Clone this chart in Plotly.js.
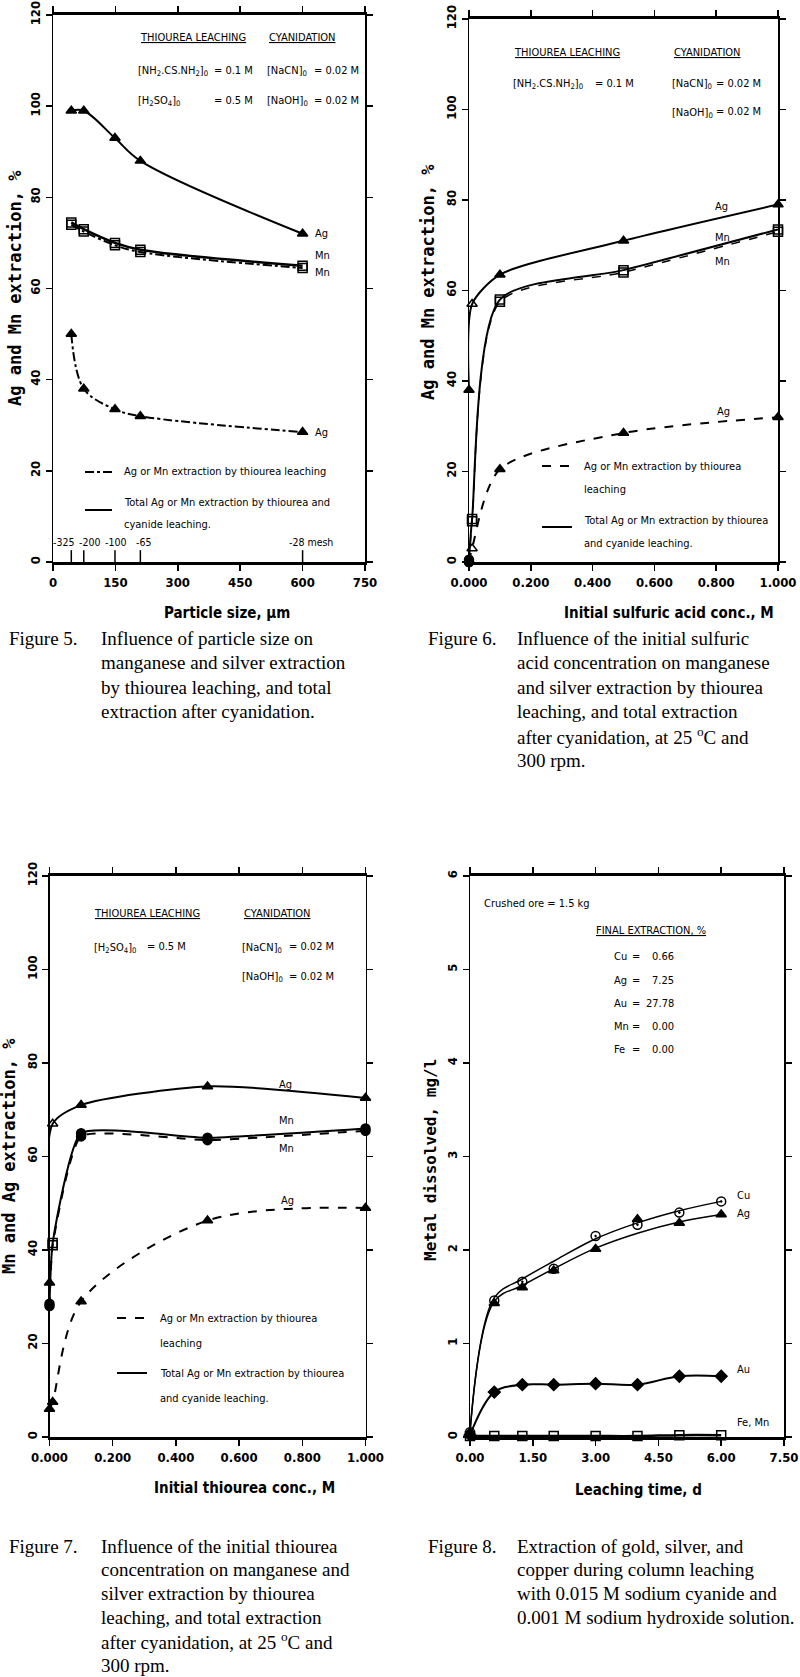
<!DOCTYPE html>
<html><head><meta charset="utf-8">
<script src="https://cdn.plot.ly/plotly-3.0.1.min.js"></script>
<style>html,body{margin:0;padding:0;background:#fff}#chart{width:800px;height:1677px}</style>
</head><body><div id="chart"></div>
<script>
// ---------- Figure 5 : particle size ----------
const particleSize5 = [44, 74, 149, 210, 600];
const agTotal5 = [99, 99, 93, 88, 72];
const mnTotal5 = [74.5, 73, 70, 68.5, 65];
const mnThio5 = [74, 72.5, 69.5, 68, 64.5];
const agThio5 = [50, 38, 33.5, 32, 28.5];
const meshSizes5 = [44, 74, 149, 210, 600];
const meshLabels5 = ['-325', '-200', '-100', '-65', '-28 mesh'];
const xTicks5 = [0, 150, 300, 450, 600, 750];
// ---------- Figure 6 : sulfuric acid ----------
const acidConc6 = [0, 0.01, 0.1, 0.5, 1.0];
const agTotal6 = [38, 57, 63.5, 71, 79];
const mnTotal6 = [0.5, 9.5, 58, 64.5, 73.5];
const mnThio6 = [0, 9, 57.5, 64, 73];
const agThio6 = [0, 3, 20.5, 28.5, 32];
// ---------- Figure 7 : thiourea ----------
const thioConc7 = [0, 0.01, 0.1, 0.5, 1.0];
const agTotal7 = [33, 67, 71, 75, 72.5];
const mnTotal7 = [28.5, 41.5, 65, 64, 66];
const mnThio7 = [28, 41, 64.3, 63.5, 65.5];
const agThio7 = [6, 7.5, 29, 46.3, 49];
const extrTicks = [0, 20, 40, 60, 80, 100, 120];
const concTicks = [0, 0.2, 0.4, 0.6, 0.8, 1.0];
// ---------- Figure 8 : column leaching ----------
const days8 = [0, 0.58, 1.25, 2, 3, 4, 5, 6];
const cu8 = [0.05, 1.46, 1.66, 1.80, 2.15, 2.27, 2.40, 2.52];
const ag8 = [0.05, 1.43, 1.60, 1.78, 2.01, 2.33, 2.29, 2.38];
const cuCurve8 = [0.05, 1.49, 1.69, 1.88, 2.12, 2.29, 2.42, 2.52];
const agCurve8 = [0.05, 1.45, 1.62, 1.80, 2.02, 2.18, 2.30, 2.38];
const au8 = [0.02, 0.48, 0.56, 0.56, 0.57, 0.56, 0.65, 0.65];
const feMn8 = [0.01, 0.01, 0.01, 0.01, 0.01, 0.01, 0.02, 0.02];
const dayTicks8 = [0, 1.5, 3, 4.5, 6, 7.5];
const mgTicks8 = [0, 1, 2, 3, 4, 5, 6];
const finalMetals8 = ['Cu', 'Ag', 'Au', 'Mn', 'Fe'];
const finalExtraction8 = ['0.66', '7.25', '27.78', '0.00', '0.00'];
// ---------- captions ----------
const capLabels = ['Figure 5.', 'Figure 6.', 'Figure 7.', 'Figure 8.'];
const cap5 = ['Influence of particle size on', 'manganese and silver extraction', 'by thiourea leaching, and total', 'extraction after cyanidation.'];
const cap6 = ['Influence of the initial sulfuric', 'acid concentration on manganese', 'and silver extraction by thiourea', 'leaching, and total extraction', 'after cyanidation, at 25 <sup>o</sup>C and', '300 rpm.'];
const cap7 = ['Influence of the initial thiourea', 'concentration on manganese and', 'silver extraction by thiourea', 'leaching, and total extraction', 'after cyanidation, at 25 <sup>o</sup>C and', '300 rpm.'];
const cap8 = ['Extraction of gold, silver, and', 'copper during column leaching', 'with 0.015 M sodium cyanide and', '0.001 M sodium hydroxide solution.'];

// ---------- styling / layout ----------
const W = 800, H = 1677;
const px = v => v / W, py = v => 1 - v / H;
const NARROW = '"Liberation Sans Narrow", "DejaVu Sans Condensed", "Liberation Sans", sans-serif';
const MONO = '"DejaVu Sans Mono", "Liberation Mono", monospace';
const SERIF = '"Liberation Serif", "DejaVu Serif", serif';
const BLACK = '#000';

function xax(d0, d1, range, tickvals, fmt, anchor) {
  return {domain: [px(d0), px(d1)], range, tickvals, tickformat: fmt, anchor,
    showline: true, linewidth: 3, linecolor: BLACK, mirror: 'ticks', ticks: 'outside',
    ticklen: 6, tickwidth: 1.5, tickcolor: BLACK, showgrid: false, zeroline: false,
    tickfont: {family: NARROW, size: 13, color: BLACK, weight: 'bold'}, fixedrange: true};
}
function yax(top, bottom, range, tickvals, anchor) {
  return {domain: [py(bottom), py(top)], range, tickvals, anchor, tickangle: -90,
    showline: true, linewidth: 1.5, linecolor: BLACK, mirror: 'ticks', ticks: 'outside',
    ticklen: 6, tickwidth: 1.5, tickcolor: BLACK, showgrid: false, zeroline: false,
    tickfont: {family: NARROW, size: 13, color: BLACK, weight: 'bold'}, fixedrange: true};
}
function tr(x, y, xa, ya, dash, width, symbols, smooth, mode) {
  return {x, y, xaxis: xa, yaxis: ya, type: 'scatter', mode: mode || 'lines+markers', cliponaxis: false,
    showlegend: false, hoverinfo: 'skip',
    line: {color: BLACK, width, dash, shape: 'spline', smoothing: smooth == null ? 1 : smooth},
    marker: {symbol: symbols, size: 9, color: BLACK, line: {color: BLACK, width: 1.5}}};
}
const rep = (s, n) => Array(n).fill(s);
const triF = rep('triangle-up', 5);
const triMix = ['triangle-up', 'triangle-up-open', 'triangle-up', 'triangle-up', 'triangle-up'];

const data = [
  // Fig 5
  tr(particleSize5, agTotal5, 'x', 'y', 'solid', 2, triF),
  tr(particleSize5, mnTotal5, 'x', 'y', 'solid', 2.5, rep('square-open', 5)),
  tr(particleSize5, mnThio5, 'x', 'y', 'dashdot', 2, rep('square-open', 5)),
  tr(particleSize5, agThio5, 'x', 'y', 'dashdot', 2, triF),
  // Fig 6
  tr(acidConc6, agTotal6, 'x2', 'y2', 'solid', 2, triMix, 0.7),
  tr(acidConc6, mnTotal6, 'x2', 'y2', 'solid', 2, ['circle', 'square-open', 'square-open', 'square-open', 'square-open'], 0.7),
  tr(acidConc6, mnThio6, 'x2', 'y2', 'dash', 1.5, ['circle', 'square-open', 'square-open', 'square-open', 'square-open'], 0.7),
  tr(acidConc6, agThio6, 'x2', 'y2', 'dash', 2, ['circle', 'triangle-up-open', 'triangle-up', 'triangle-up', 'triangle-up'], 0.8),
  // Fig 7
  tr(thioConc7, agTotal7, 'x3', 'y3', 'solid', 2, triMix, 0.7),
  tr(thioConc7, mnTotal7, 'x3', 'y3', 'solid', 2, ['circle', 'square-open', 'circle', 'circle', 'circle'], 0.45),
  tr(thioConc7, mnThio7, 'x3', 'y3', 'dash', 2, ['circle', 'square-open', 'circle', 'circle', 'circle'], 0.45),
  tr(thioConc7, agThio7, 'x3', 'y3', 'dash', 2, triF, 0.9),
  // Fig 8 : drawn curves and measured points
  tr(days8, cuCurve8, 'x4', 'y4', 'solid', 1.5, null, 1, 'lines'),
  tr(days8, agCurve8, 'x4', 'y4', 'solid', 1.5, null, 1, 'lines'),
  tr(days8, cu8, 'x4', 'y4', 'solid', 1.5, rep('circle-open-dot', 8), 1, 'markers'),
  tr(days8, ag8, 'x4', 'y4', 'solid', 1.5, rep('triangle-up', 8), 1, 'markers'),
  tr(days8, au8, 'x4', 'y4', 'solid', 2, rep('diamond', 8)),
  tr(days8, feMn8, 'x4', 'y4', 'solid', 2.5, rep('square-open', 8))
];

const ann = [];
const shapes = [];
function note(text, x, y, size, opts) {
  ann.push(Object.assign({text, x: px(x), y: py(y), xref: 'paper', yref: 'paper', xanchor: 'left', yanchor: 'middle',
    showarrow: false, font: {family: NARROW, size: size || 11, color: BLACK}}, opts || {}));
}
function dlabel(text, x, y, xa, ya) {
  ann.push({text, x, y, xref: xa, yref: ya, xanchor: 'left', yanchor: 'middle', showarrow: false,
    font: {family: NARROW, size: 11, color: BLACK}});
}
function legLine(x0, x1, y, dash) {
  shapes.push({type: 'line', xref: 'paper', yref: 'paper', x0: px(x0), x1: px(x1), y0: py(y), y1: py(y),
    line: {color: BLACK, width: 2, dash}});
}
function ytitle(text, x, y, size) {
  ann.push({text, x: px(x), y: py(y), xref: 'paper', yref: 'paper', xanchor: 'center', yanchor: 'middle',
    textangle: -90, showarrow: false, font: {family: MONO, size: size || 16, color: BLACK, weight: 'bold'}});
}
function xtitle(text, x, y) {
  ann.push({text, x: px(x), y: py(y), xref: 'paper', yref: 'paper', xanchor: 'center', yanchor: 'middle',
    showarrow: false, font: {family: NARROW, size: 15, color: BLACK, weight: 'bold'}});
}
const thioForm = '[NH<sub>2</sub>.CS.NH<sub>2</sub>]<sub>0</sub>';
const acidForm = '[H<sub>2</sub>SO<sub>4</sub>]<sub>0</sub>', nacn = '[NaCN]<sub>0</sub>', naoh = '[NaOH]<sub>0</sub>';

// ---- Panel 1 texts
note('<u>THIOUREA LEACHING</u>', 138, 38); note('<u>CYANIDATION</u>', 267, 38);
note(thioForm, 136, 71); note('= 0.1 M', 212, 70);
note(nacn, 265, 71); note('= 0.02 M', 312, 70);
note(acidForm, 136, 101); note('= 0.5 M', 212, 100);
note(naoh, 265, 101); note('= 0.02 M', 312, 100);
legLine(85, 112, 472, 'dashdot'); note('Ag or Mn extraction by thiourea leaching', 122, 472);
legLine(85, 112, 510, 'solid'); note('Total Ag or Mn extraction by thiourea and', 122, 502); note('cyanide leaching.', 122, 525);
dlabel('Ag', 626, 72, 'x', 'y'); dlabel('Mn', 626, 67.2, 'x', 'y'); dlabel('Mn', 626, 63.5, 'x', 'y'); dlabel('Ag', 626, 28.4, 'x', 'y');
const meshShift = [-8, 6, 1, 3, 8];
meshSizes5.forEach((m, i) => {
  shapes.push({type: 'line', xref: 'x', yref: 'y', x0: m, x1: m, y0: 0, y1: 2.6, line: {color: BLACK, width: 1.5}});
  ann.push({text: meshLabels5[i], x: m, y: 4.3, xref: 'x', yref: 'y', xanchor: 'center', yanchor: 'middle',
    xshift: meshShift[i], showarrow: false, font: {family: NARROW, size: 10.5, color: BLACK}});
});
ytitle('Ag and Mn extraction, %', 15, 288, 17);
xtitle('Particle size, µm', 227, 613);

// ---- Panel 2 texts
note('<u>THIOUREA LEACHING</u>', 512, 52); note('<u>CYANIDATION</u>', 672, 52);
note(thioForm, 511, 84); note('= 0.1 M', 593, 83);
note(nacn, 670, 84); note('= 0.02 M', 714, 83);
note(naoh, 670, 113); note('= 0.02 M', 714, 112);
legLine(542, 572, 466, 'dash'); note('Ag or Mn extraction by thiourea', 582, 466); note('leaching', 582, 489);
legLine(542, 572, 527, 'solid'); note('Total Ag or Mn extraction by thiourea', 582, 520); note('and cyanide leaching.', 582, 543);
dlabel('Ag', 0.79, 78.5, 'x2', 'y2'); dlabel('Mn', 0.79, 71.8, 'x2', 'y2'); dlabel('Mn', 0.79, 66.3, 'x2', 'y2'); dlabel('Ag', 0.795, 33.3, 'x2', 'y2');
ytitle('Ag and Mn extraction, %', 428, 282, 17);
xtitle('Initial sulfuric acid conc., M', 669, 613);

// ---- Panel 3 texts
note('<u>THIOUREA LEACHING</u>', 92, 913); note('<u>CYANIDATION</u>', 242, 913);
note(acidForm, 92, 948); note('= 0.5 M', 145, 947);
note(nacn, 240, 948); note('= 0.02 M', 287, 947);
note(naoh, 240, 977); note('= 0.02 M', 287, 976);
legLine(117, 147, 1318, 'dash'); note('Ag or Mn extraction by thiourea', 158, 1318); note('leaching', 158, 1343);
legLine(117, 147, 1373, 'solid'); note('Total Ag or Mn extraction by thiourea', 158, 1373); note('and cyanide leaching.', 158, 1398);
dlabel('Ag', 0.72, 75.5, 'x3', 'y3'); dlabel('Mn', 0.72, 67.6, 'x3', 'y3'); dlabel('Mn', 0.72, 61.8, 'x3', 'y3'); dlabel('Ag', 0.725, 50.5, 'x3', 'y3');
ytitle('Mn and Ag extraction, %', 9, 1156, 17);
xtitle('Initial thiourea conc., M', 244, 1488);

// ---- Panel 4 texts
note('Crushed ore = 1.5 kg', 482, 903);
note('<u>FINAL EXTRACTION, %</u>', 594, 930);
finalMetals8.forEach((m, i) => {
  const y = 957 + i * 23.2;
  note(m, 612, y); note('=', 630, y);
  ann.push({text: finalExtraction8[i], x: px(676), y: py(y), xref: 'paper', yref: 'paper', xanchor: 'right',
    yanchor: 'middle', showarrow: false, font: {family: NARROW, size: 11, color: BLACK}});
});
dlabel('Cu', 6.33, 2.58, 'x4', 'y4'); dlabel('Ag', 6.33, 2.39, 'x4', 'y4');
dlabel('Au', 6.33, 0.72, 'x4', 'y4'); dlabel('Fe, Mn', 6.33, 0.16, 'x4', 'y4');
ytitle('Metal dissolved, mg/l', 430, 1160, 16);
xtitle('Leaching time, d', 638, 1490);

// ---- captions
function caption(label, lines, xl, xt, y0, dy) {
  const f = {family: SERIF, size: 19, color: BLACK};
  ann.push({text: label, x: px(xl), y: py(y0), xref: 'paper', yref: 'paper', xanchor: 'left', yanchor: 'middle', showarrow: false, font: f});
  lines.forEach((t, i) => ann.push({text: t, x: px(xt), y: py(y0 + i * dy), xref: 'paper', yref: 'paper',
    xanchor: 'left', yanchor: 'middle', showarrow: false, font: f}));
}
caption(capLabels[0], cap5, 7, 99, 638, 24.5);
caption(capLabels[1], cap6, 426, 515, 638, 24.5);
caption(capLabels[2], cap7, 7, 99, 1546, 23.8);
caption(capLabels[3], cap8, 426, 515, 1546, 23.8);

const layout = {
  width: W, height: H, margin: {l: 0, r: 0, t: 0, b: 0}, paper_bgcolor: '#fff', plot_bgcolor: '#fff',
  showlegend: false,
  xaxis: xax(53, 365, [0, 750], xTicks5, 'd', 'y'),
  yaxis: yax(15, 562, [0, 120], extrTicks, 'x'),
  xaxis2: xax(469, 778, [0, 1], concTicks, '.3f', 'y2'),
  yaxis2: yax(19, 562, [0, 120], extrTicks, 'x2'),
  xaxis3: xax(49.5, 365.5, [0, 1], concTicks, '.3f', 'y3'),
  yaxis3: yax(876, 1437, [0, 120], extrTicks, 'x3'),
  xaxis4: xax(470, 784, [0, 7.5], dayTicks8, '.2f', 'y4'),
  yaxis4: yax(876, 1437, [0, 6], mgTicks8, 'x4'),
  annotations: ann, shapes
};
Plotly.newPlot('chart', data, layout, {displayModeBar: false, staticPlot: true});
</script></body></html>
